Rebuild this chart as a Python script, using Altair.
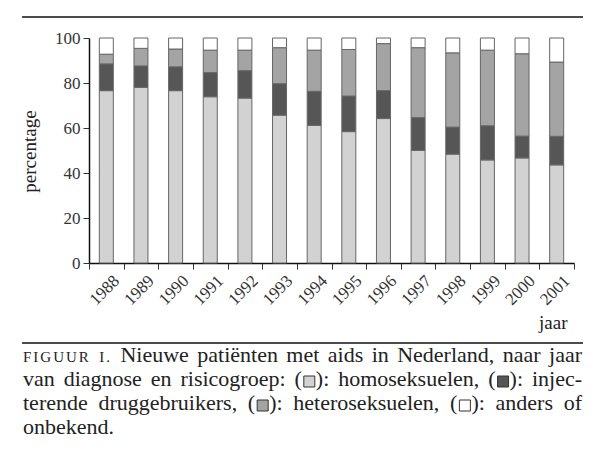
import altair as alt
import pandas as pd

years = ["1988", "1989", "1990", "1991", "1992", "1993", "1994",
         "1995", "1996", "1997", "1998", "1999", "2000", "2001"]
groups = ["homoseksuelen", "injecterende druggebruikers", "heteroseksuelen", "anders of onbekend"]
homo = [76.6, 78.1, 76.6, 73.9, 73.3, 65.7, 61.2, 58.4, 64.2, 50.0, 48.4, 45.8, 46.7, 43.6]
drug = [11.9, 9.5, 10.6, 10.7, 12.2, 14.0, 15.1, 15.8, 12.4, 14.6, 12.0, 15.2, 9.7, 12.7]
hetero = [4.3, 7.8, 7.9, 10.0, 9.1, 16.0, 18.3, 20.7, 20.9, 31.1, 33.0, 33.6, 36.6, 33.0]
other = [7.2, 4.6, 4.9, 5.4, 5.4, 4.3, 5.4, 5.1, 2.5, 4.3, 6.6, 5.4, 7.0, 10.7]
colors = ["#d2d2d2", "#565656", "#a4a4a4", "#ffffff"]
y_ticks = [0, 20, 40, 60, 80, 100]

rows = []
for gi, (g, vals) in enumerate(zip(groups, [homo, drug, hetero, other])):
    for yr, v in zip(years, vals):
        rows.append({"jaar": yr, "groep": g, "pct": v, "volgorde": gi})
df = pd.DataFrame(rows)

FONT = "Liberation Serif"
TXT = "#222222"

bars = alt.Chart(df).mark_bar(width=14, stroke="#666666", strokeWidth=1).encode(
    x=alt.X("jaar:N", sort=years,
            scale=alt.Scale(paddingInner=0, paddingOuter=0),
            axis=alt.Axis(title="jaar", labelAngle=-45, labelAlign="right",
                          labelBaseline="middle", labelOffset=10, labelPadding=9,
                          labelFontSize=17, labelColor="#333333",
                          tickBand="extent", tickSize=6, tickColor="#333333",
                          domainColor="#111111", domainWidth=1.5,
                          titleFontSize=19, titleFontWeight="normal", titleColor=TXT,
                          titleX=478, titleY=65, titleAlign="right",
                          titleBaseline="alphabetic")),
    y=alt.Y("pct:Q", stack="zero",
            scale=alt.Scale(domain=[0, 100], nice=False),
            axis=alt.Axis(title="percentage", values=y_ticks, grid=False,
                          labelFontSize=17, labelColor="#333333", labelPadding=3,
                          tickSize=6, tickColor="#333333",
                          domainColor="#111111", domainWidth=1.5,
                          titleFontSize=19, titleFontWeight="normal", titleColor=TXT,
                          titleAngle=-90, titleX=-54, titleY=113,
                          titleAlign="center", titleBaseline="alphabetic")),
    fill=alt.Fill("groep:N", sort=groups,
                  scale=alt.Scale(domain=groups, range=colors), legend=None),
    order=alt.Order("volgorde:Q"),
)

one = pd.DataFrame({"k": [0]})

# Times / Liberation Serif advance widths (per 1000 em)
CW = {" ": 250, "a": 444, "b": 500, "c": 444, "d": 500, "e": 444, "f": 333, "g": 500,
      "h": 500, "i": 278, "j": 278, "k": 500, "l": 278, "m": 778, "n": 500, "o": 500,
      "p": 500, "r": 333, "s": 389, "t": 278, "u": 500, "v": 500, "w": 722,
      ",": 250, ".": 250, ":": 278, "(": 333, ")": 333, "-": 333, "ë": 444,
      "N": 722, "F": 556, "I": 333, "G": 722, "U": 722, "R": 667}


def tw(s, fs):
    return sum(CW.get(c, 500) for c in s) * fs / 1000.0


def rule(x1, x2, y, w=1.5):
    return alt.Chart(one).mark_rule(color="#111111", strokeWidth=w).encode(
        x=alt.value(x1), x2=alt.value(x2), y=alt.value(y))


def txt(s, x, y, size):
    return alt.Chart(one).mark_text(text=s, align="left", baseline="alphabetic",
                                    font=FONT, fontSize=size, color=TXT).encode(
        x=alt.value(x), y=alt.value(y))


def sq(x1, y1, fill, s=11):
    return alt.Chart(one).mark_rect(fill=fill, stroke="#333333", strokeWidth=1).encode(
        x=alt.value(x1), x2=alt.value(x1 + s), y=alt.value(y1), y2=alt.value(y1 + s))


FS = 22
SC = 15
TRACK = 2.0
SQW, SQL, SQR = 11, 2, 1


def piece_w(p):
    if p[0] == "t":
        _, s, fs, tr = p
        return tw(s, fs) + tr * len(s)
    return SQL + SQW + SQR


def sc(s):
    return [("t", s, SC, TRACK)]


def w(s):
    return [("t", s, FS, 0)]


def box(color):
    return [("t", "(", FS, 0), ("sq", color), ("t", "):", FS, 0)]


LEFT, RIGHTX = -66, 493


def layout(words, base, justify=True):
    out = []
    widths = [sum(piece_w(p) for p in wd) for wd in words]
    if justify and len(words) > 1:
        gap = (RIGHTX - LEFT - sum(widths)) / (len(words) - 1)
    else:
        gap = tw(" ", FS)
    x = LEFT
    for wd, wdw in zip(words, widths):
        cx = x
        for p in wd:
            if p[0] == "t":
                _, s, fs, tr = p
                if tr:
                    for ch in s:
                        out.append(txt(ch, cx, base, fs))
                        cx += tw(ch, fs) + tr
                else:
                    out.append(txt(s, cx, base, fs))
                    cx += tw(s, fs)
            else:
                out.append(sq(cx + SQL, base - 10, p[1], SQW))
                cx += SQL + SQW + SQR
        x += wdw + gap
    return out


L1, L2, L3, L4 = 324, 348, 372, 396
line1 = [sc("FIGUUR"), sc("I."), w("Nieuwe"), w("patiënten"), w("met"), w("aids"),
         w("in"), w("Nederland,"), w("naar"), w("jaar")]
line2 = [w("van"), w("diagnose"), w("en"), w("risicogroep:"), box(colors[0]),
         w("homoseksuelen,"), box(colors[1]), w("injec-")]
line3 = [w("terende"), w("druggebruikers,"), box(colors[2]), w("heteroseksuelen,"),
         box(colors[3]), w("anders"), w("of")]
line4 = [w("onbekend.")]

layers = [bars, rule(-67, 494, -21), rule(-67, 494, 305)]
layers += layout(line1, L1)
layers += layout(line2, L2)
layers += layout(line3, L3)
layers += layout(line4, L4, justify=False)

chart = alt.layer(*layers).properties(
    width=485, height=225,
    autosize=alt.AutoSizeParams(type="none"),
    padding={"left": 81, "top": 30, "right": 18, "bottom": 180},
).configure(font=FONT).configure_view(stroke=None)

chart.save("out.html", embed_options={"renderer": "svg", "actions": False})
